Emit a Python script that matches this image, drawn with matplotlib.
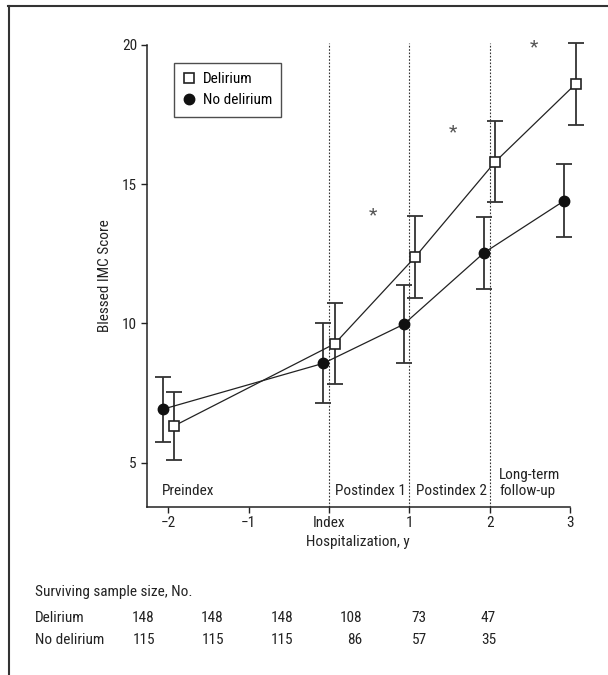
import matplotlib
matplotlib.use("Agg")
import matplotlib.pyplot as plt
from matplotlib import font_manager
from matplotlib.lines import Line2D

names = {f.name for f in font_manager.fontManager.ttflist}
fam = ['Liberation Sans Narrow'] if 'Liberation Sans Narrow' in names else ['Roboto Condensed'] if 'Roboto Condensed' in names else ['Liberation Sans']
plt.rcParams['font.family'] = fam + ['DejaVu Sans']

# Data
time_points = [-2, 0, 1, 2, 3]
tick_positions = [-2, -1, 0, 1, 2, 3]
tick_labels = ['\u22122', '\u22121', 'Index', '1', '2', '3']
delirium_mean = [6.32, 9.27, 12.38, 15.81, 18.60]
delirium_err = [1.23, 1.46, 1.48, 1.46, 1.47]
nodel_mean = [6.92, 8.57, 9.97, 12.54, 14.41]
nodel_err = [1.17, 1.43, 1.40, 1.30, 1.30]
offset_del = 0.07
offset_nodel = -0.07
star_x = [0.55, 1.54, 2.55]
star_y = [13.87, 16.88, 19.9]
period_lines = [0, 1, 2]
period_labels = ['Preindex', 'Postindex 1', 'Postindex 2', 'Long-term\nfollow-up']
period_label_x = [-2.08, 0.08, 1.08, 2.12]
table_title = 'Surviving sample size, No.'
row_names = ['Delirium', 'No delirium']
n_delirium = [148, 148, 148, 108, 73, 47]
n_nodel = [115, 115, 115, 86, 57, 35]

W, H = 608, 675
fig = plt.figure(figsize=(W/100, H/100), dpi=100)
ax = fig.add_axes([146.7/W, 1-506.7/H, (570-146.7)/W, (506.7-45)/H])

dark = '#222222'
fs = 11

xd = [t + offset_del for t in time_points]
xn = [t + offset_nodel for t in time_points]

ax.errorbar(xn, nodel_mean, yerr=nodel_err, fmt='none', ecolor='#333333',
            elinewidth=1.3, capsize=6, capthick=1.3, clip_on=False, zorder=2)
ax.errorbar(xd, delirium_mean, yerr=delirium_err, fmt='none', ecolor='#333333',
            elinewidth=1.3, capsize=6, capthick=1.3, clip_on=False, zorder=2)
ax.plot(xn, nodel_mean, color='#222222', lw=0.9, marker='o', ms=7.5,
        mfc='#111111', mec='#111111', clip_on=False, zorder=4)
ax.plot(xd, delirium_mean, color='#222222', lw=0.9, marker='s', ms=7.5,
        mfc='white', mec='#222222', mew=1.2, clip_on=False, zorder=5)

for xv in period_lines:
    ax.plot([xv, xv], [3.42, 20.07], color='#333333', lw=0.8, ls=(0, (1.5, 1.5)),
            clip_on=False, zorder=1)

for sx, sy in zip(star_x, star_y):
    ax.text(sx, sy, '*', ha='center', va='center', fontsize=14, color='#555555')

for lx, lab in zip(period_label_x, period_labels):
    ax.text(lx, 3.75, lab, ha='left', va='bottom', multialignment='left',
            fontsize=fs, color=dark, linespacing=1.15)

ax.set_xlim(-2.27, 3.0)
ax.set_ylim(3.42, 20.0)
ax.set_xticks(tick_positions)
ax.set_xticklabels(tick_labels)
ax.set_yticks([5, 10, 15, 20])
ax.spines['top'].set_visible(False)
ax.spines['right'].set_visible(False)
ax.spines['left'].set_bounds(3.42, 20)
for s in ['left', 'bottom']:
    ax.spines[s].set_linewidth(1.1)
    ax.spines[s].set_color('#222222')
ax.tick_params(direction='out', length=4, width=1.0, colors='#222222',
               labelsize=fs, labelcolor=dark, pad=3)
ax.set_xlabel('Hospitalization, y', fontsize=fs, color=dark, labelpad=3)
ax.set_ylabel('Blessed IMC Score', fontsize=fs, color=dark, labelpad=7)

handles = [Line2D([], [], ls='none', marker='s', ms=7.5, mfc='white', mec='#222222', mew=1.2),
           Line2D([], [], ls='none', marker='o', ms=7.5, mfc='#111111', mec='#111111')]
leg = ax.legend(handles, ['Delirium', 'No delirium'], loc='upper left',
                bbox_to_anchor=((174-146.7)/(570-146.7), 1-(63.3-45)/(506.7-45)),
                fontsize=fs, frameon=True, fancybox=False, handlelength=0.8,
                handletextpad=0.5, borderpad=0.6, labelspacing=0.45, borderaxespad=0)
leg.get_frame().set_edgecolor('#222222')
leg.get_frame().set_linewidth(1.0)

# table
fig.text(35/W, 1-592/H, table_title, ha='left', va='center', fontsize=fs, color=dark)
row_y = [618, 640]
right_edges = [155, 224, 293, 362, 427, 496]
for ry, name, vals in zip(row_y, row_names, [n_delirium, n_nodel]):
    fig.text(35/W, 1-ry/H, name, ha='left', va='center', fontsize=fs, color=dark)
    for re_, v in zip(right_edges, vals):
        fig.text(re_/W, 1-ry/H, str(v), ha='right', va='center', fontsize=fs, color=dark)

# partial frame (top and left)
fig.add_artist(Line2D([8/W, 1], [1-5.5/H, 1-5.5/H], transform=fig.transFigure, color='#333333', lw=1.5))
fig.add_artist(Line2D([8.5/W, 8.5/W], [0, 1-5.5/H], transform=fig.transFigure, color='#333333', lw=1.5))

fig.savefig('out.png', dpi=100)
